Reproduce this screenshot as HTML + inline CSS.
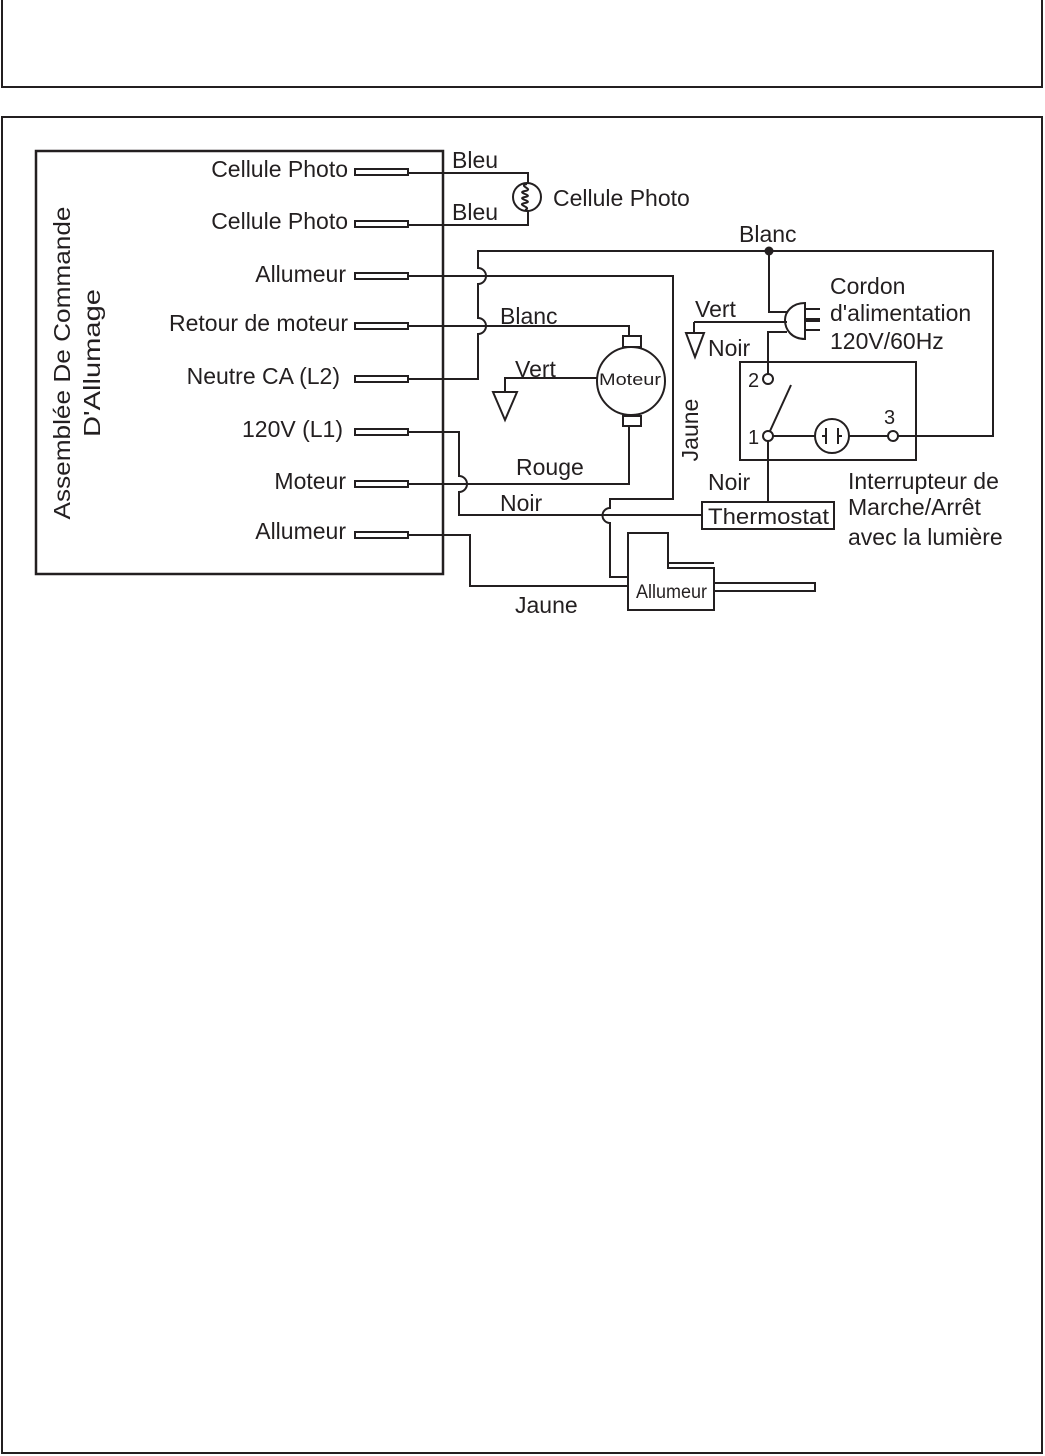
<!DOCTYPE html>
<html><head><meta charset="utf-8"><style>body{margin:0;background:#fff}svg{display:block}text{font-family:"Liberation Sans",sans-serif;font-size:23px;fill:#231f20}</style></head>
<body>
<svg width="1045" height="1456" viewBox="0 0 1045 1456" xmlns="http://www.w3.org/2000/svg">
<g fill="none" stroke="#231f20" stroke-width="2">
<path d="M2 0V87H1042V0"/>
<rect x="2" y="117" width="1040" height="1336"/>
<rect x="36" y="151" width="407" height="423" stroke-width="2.5"/>
<g stroke-width="2">
<rect x="355" y="169" width="53" height="6"/><rect x="355" y="221" width="53" height="6"/>
<rect x="355" y="273" width="53" height="6"/><rect x="355" y="323" width="53" height="6"/>
<rect x="355" y="376" width="53" height="6"/><rect x="355" y="429" width="53" height="6"/>
<rect x="355" y="481" width="53" height="6"/><rect x="355" y="532" width="53" height="6"/>
</g>
<path d="M408 173H528V184M408 225H528V210"/>
<circle cx="527" cy="197" r="14"/>
<path d="M527 184c-10 2 8 5 -2 7s10 4 0 6s10 4 0 6s8 4 0 7"/>
<path d="M408 379H478V334a8 8 0 0 0 0-16V284a8 8 0 0 0 0-16V251H993V436H898"/>
<path d="M408 276H673V499H610V508a7.5 7.5 0 0 0 0 15V577H628"/>
<path d="M408 326H629V336"/>
<circle cx="631" cy="381" r="34"/>
<rect x="623" y="336" width="18" height="11"/>
<rect x="623" y="416" width="18" height="10"/>
<path d="M597 378H505V392M493 392H517L505 420Z"/>
<path d="M629 426V484H408"/>
<path d="M408 432H459V476a8 8 0 0 1 0 16V515H702"/>
<path d="M408 535H470V586H628"/>
<path d="M628 533H668V568H714V610H628Z"/>
<path d="M668 563H714"/>
<rect x="714" y="583" width="101" height="8"/>
<rect x="702" y="502" width="132" height="27"/>
<rect x="740" y="362" width="176" height="98"/>
<circle cx="768" cy="379" r="5"/><circle cx="768" cy="436" r="5"/><circle cx="893" cy="436" r="5"/>
<path d="M770 431L791 385M773 436H815M849 436H888M768 441V502"/>
<circle cx="832" cy="436" r="17"/>
<path d="M822 436H826M826 428V444M838 428V444M838 436H842" stroke-width="2"/>
<path d="M769 251V312H787M694 322H787M768 374V332H787"/>
<path d="M805 303C792 303 785 312 785 320C785 330 792 339 805 339Z"/>
<path d="M805 309H820M805 330H820"/><path d="M805 320H820" stroke-width="4"/>
<path d="M694 322V333M686 333H704L695 357Z"/>
</g>
<circle cx="769" cy="251" r="4.5" fill="#231f20"/>
<text x="348" y="177" text-anchor="end">Cellule Photo</text>
<text x="348" y="229" text-anchor="end">Cellule Photo</text>
<text x="346" y="282" text-anchor="end">Allumeur</text>
<text x="348" y="331" text-anchor="end">Retour de moteur</text>
<text x="340" y="384" text-anchor="end">Neutre CA (L2)</text>
<text x="343" y="437" text-anchor="end">120V (L1)</text>
<text x="346" y="489" text-anchor="end">Moteur</text>
<text x="346" y="539" text-anchor="end">Allumeur</text>
<text transform="translate(70,363) rotate(-90)" text-anchor="middle" textLength="313" lengthAdjust="spacingAndGlyphs">Assemblée De Commande</text>
<text transform="translate(100,363) rotate(-90)" text-anchor="middle" textLength="148" lengthAdjust="spacingAndGlyphs">D'Allumage</text>
<text x="452" y="168">Bleu</text><text x="452" y="220">Bleu</text>
<text x="553" y="206">Cellule Photo</text>
<text x="739" y="242">Blanc</text>
<text x="830" y="294">Cordon</text><text x="830" y="321">d'alimentation</text><text x="830" y="349">120V/60Hz</text>
<text x="695" y="317">Vert</text><text x="708" y="356">Noir</text>
<text x="500" y="324">Blanc</text><text x="515" y="377">Vert</text>
<text x="599" y="385" style="font-size:17px" textLength="62" lengthAdjust="spacingAndGlyphs">Moteur</text>
<text x="516" y="475">Rouge</text><text x="500" y="511">Noir</text>
<text x="515" y="613">Jaune</text><text x="708" y="490">Noir</text>
<text transform="translate(698,430) rotate(-90)" text-anchor="middle">Jaune</text>
<text x="748" y="387" style="font-size:20px">2</text><text x="748" y="444" style="font-size:20px">1</text><text x="884" y="424" style="font-size:20px">3</text>
<text x="708" y="524" style="font-size:22px" textLength="121" lengthAdjust="spacingAndGlyphs">Thermostat</text>
<text x="636" y="598" style="font-size:19px" textLength="71" lengthAdjust="spacingAndGlyphs">Allumeur</text>
<text x="848" y="489">Interrupteur de</text><text x="848" y="515">Marche/Arrêt</text><text x="848" y="545">avec la lumière</text>
</svg>
</body></html>
